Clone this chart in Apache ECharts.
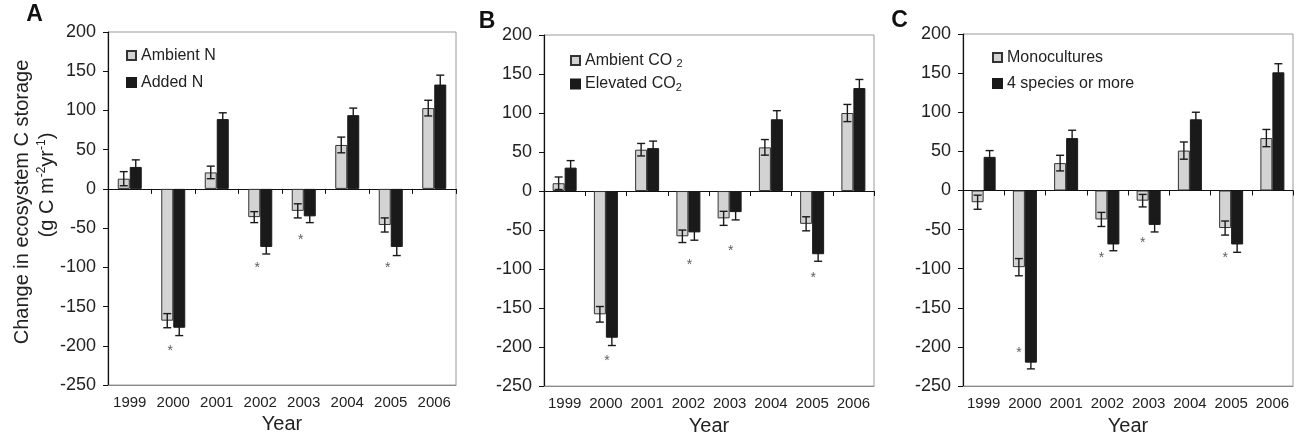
<!DOCTYPE html>
<html>
<head>
<meta charset="utf-8">
<script src="https://cdn.jsdelivr.net/npm/echarts@6/dist/echarts.min.js"></script>
<style>
  html, body { margin: 0; padding: 0; background: #fff; }
  #chart { width: 1297px; height: 441px; }
</style>
</head>
<body>
<div id="chart"></div>
<script>
// Years shared by the three panels
const years = ['1999', '2000', '2001', '2002', '2003', '2004', '2005', '2006'];

// Panel A: nitrogen treatment (mean and standard error, g C m-2 yr-1)
const ambientN      = [13, -168, 21, -36, -28, 56, -46, 103];
const ambientNErr   = [9, 9, 8, 7, 9, 10, 9, 10];
const addedN        = [28, -177, 89, -74, -35, 94, -74, 133];
const addedNErr     = [9, 10, 8, 9, 8, 9, 11, 12];
const starsA        = [null, -203, null, -97, -61, null, -97, null];

// Panel B: CO2 treatment
const ambientCO2    = [10, -158, 53, -58, -35, 56, -42, 100];
const ambientCO2Err = [8, 10, 8, 8, 9, 10, 9, 11];
const elevatedCO2   = [30, -188, 55, -53, -27, 92, -81, 132];
const elevatedCO2Err= [9, 10, 9, 10, 10, 11, 9, 11];
const starsB        = [null, -214, null, -91, -73, null, -108, null];

// Panel C: diversity treatment
const mono          = [-15, -98, 35, -37, -13, 51, -48, 67];
const monoErr       = [9, 11, 10, 9, 8, 11, 9, 11];
const fourSpp       = [43, -220, 67, -69, -44, 91, -69, 151];
const fourSppErr    = [8, 8, 10, 8, 9, 9, 10, 11];
const starsC        = [null, -204, null, -82, -63, null, -82, null];

// Value axis range and step
const yMin = -250, yMax = 200, yStep = 50;

const FONT = "'Liberation Sans', Arial, Helvetica, sans-serif";
const TEXT = '#222';
const GRAY = '#d3d3d3';
const BLACK = '#1a1a1a';

const panels = [
  { grid: { left: 108, top: 32, width: 348, height: 353 },
    names: ['Ambient N', 'Added N'],
    a: ambientN, aErr: ambientNErr, b: addedN, bErr: addedNErr, stars: starsA, starDx: -3,
    legend: { left: 126, top: 46.5, itemGap: 9 } },
  { grid: { left: 544, top: 35, width: 330, height: 357 },
    names: ['Ambient CO2', 'Elevated CO2'],
    a: ambientCO2, aErr: ambientCO2Err, b: elevatedCO2, bErr: elevatedCO2Err, stars: starsB, starDx: 1,
    legend: { left: 570, top: 51.5, itemGap: 5.5 } },
  { grid: { left: 963, top: 34, width: 330, height: 358 },
    names: ['Monocultures', '4 species or more'],
    a: mono, aErr: monoErr, b: fourSpp, bErr: fourSppErr, stars: starsC, starDx: -6,
    legend: { left: 992, top: 48.5, itemGap: 8 } }
];

const BAR_W = 12;

function errorBars(offset) {
  return function (params, api) {
    const i = api.value(0);
    const lo = api.coord([i, api.value(1)]);
    const hi = api.coord([i, api.value(2)]);
    const x = lo[0] + offset;
    const hw = 4;
    const st = { stroke: BLACK, lineWidth: 1.4 };
    return {
      type: 'group',
      children: [
        { type: 'line', shape: { x1: x, y1: lo[1], x2: x, y2: hi[1] }, style: st },
        { type: 'line', shape: { x1: x - hw, y1: hi[1], x2: x + hw, y2: hi[1] }, style: st },
        { type: 'line', shape: { x1: x - hw, y1: lo[1], x2: x + hw, y2: lo[1] }, style: st }
      ]
    };
  };
}

const grid = [], xAxis = [], yAxis = [], series = [], legend = [];

panels.forEach((p, g) => {
  grid.push(Object.assign({ show: true, borderColor: '#9a9a9a', borderWidth: 1, backgroundColor: 'transparent' }, p.grid));

  // bottom axis carrying the year labels
  xAxis.push({
    type: 'category', gridIndex: g, data: years, position: 'bottom',
    axisLine: { onZero: false, lineStyle: { color: '#8a8a8a', width: 1 } },
    axisTick: { show: false },
    axisLabel: { color: TEXT, fontSize: 15, fontFamily: FONT, margin: 10, interval: 0, hideOverlap: false },
    name: 'Year', nameLocation: 'middle', nameGap: 28,
    nameTextStyle: { color: TEXT, fontSize: 20, fontFamily: FONT }
  });
  // zero line with ticks between years
  xAxis.push({
    type: 'category', gridIndex: g, data: years, position: 'bottom',
    axisLine: { onZero: true, lineStyle: { color: '#111', width: 1.2 } },
    axisTick: { show: true, length: 5, interval: 0, lineStyle: { color: '#111' } },
    axisLabel: { show: false }
  });
  yAxis.push({
    type: 'value', gridIndex: g, min: yMin, max: yMax, interval: yStep,
    axisLine: { show: true, lineStyle: { color: '#111', width: 1.2 } },
    axisTick: { show: true, length: 5, lineStyle: { color: '#111' } },
    splitLine: { show: false },
    axisLabel: { color: TEXT, fontSize: 18, fontFamily: FONT, margin: 12 }
  });

  const xi = 2 * g;
  series.push({
    name: p.names[0], type: 'bar', xAxisIndex: xi, yAxisIndex: g, data: p.a,
    barWidth: BAR_W, barGap: '0%',
    itemStyle: { color: GRAY, borderColor: '#333', borderWidth: 1 }
  });
  series.push({
    name: p.names[1], type: 'bar', xAxisIndex: xi, yAxisIndex: g, data: p.b,
    barWidth: BAR_W, barGap: '0%',
    itemStyle: { color: BLACK, borderColor: BLACK, borderWidth: 1 }
  });
  series.push({
    type: 'custom', xAxisIndex: xi, yAxisIndex: g, z: 5, silent: true,
    renderItem: errorBars(-BAR_W / 2),
    data: p.a.map((v, i) => [i, v - p.aErr[i], v + p.aErr[i]])
  });
  series.push({
    type: 'custom', xAxisIndex: xi, yAxisIndex: g, z: 5, silent: true,
    renderItem: errorBars(BAR_W / 2),
    data: p.b.map((v, i) => [i, v - p.bErr[i], v + p.bErr[i]])
  });
  // significance marks
  series.push({
    type: 'scatter', xAxisIndex: xi, yAxisIndex: g, z: 6, silent: true,
    symbolSize: 0, itemStyle: { color: 'transparent' },
    data: p.stars.map(v => (v === null ? '-' : v)),
    label: { show: true, position: 'inside', formatter: '*', color: '#333',
             fontSize: 14, fontFamily: FONT, offset: [p.starDx, 3] }
  });

  legend.push({
    orient: 'vertical', left: p.legend.left, top: p.legend.top, itemGap: p.legend.itemGap,
    padding: 0, itemWidth: 9, itemHeight: 9, icon: 'rect', data: p.names, selectedMode: false,
    formatter: name => name.replace(/CO2$/, name.startsWith('Ambient') ? 'CO {sub|2}' : 'CO{sub|2}'),
    textStyle: {
      color: TEXT, fontSize: 16, fontFamily: FONT, lineHeight: 18,
      rich: { sub: { fontSize: 11, fontFamily: FONT, color: TEXT, verticalAlign: 'bottom', lineHeight: 18, padding: [6, 0, 0, 0] } }
    }
  });
});

const graphic = [
  { type: 'text', x: 34.5, y: 15, style: { text: 'A', fontSize: 23, fontWeight: 'bold', fontFamily: FONT, fill: '#111', align: 'center', verticalAlign: 'middle' } },
  { type: 'text', x: 487, y: 22, style: { text: 'B', fontSize: 23, fontWeight: 'bold', fontFamily: FONT, fill: '#111', align: 'center', verticalAlign: 'middle' } },
  { type: 'text', x: 899.5, y: 21, style: { text: 'C', fontSize: 23, fontWeight: 'bold', fontFamily: FONT, fill: '#111', align: 'center', verticalAlign: 'middle' } },
  { type: 'text', x: 22, y: 202, rotation: Math.PI / 2,
    style: { text: 'Change in ecosystem C storage', fontSize: 20, fontFamily: FONT, fill: TEXT, align: 'center', verticalAlign: 'middle' } },
  { type: 'text', x: 47, y: 185, rotation: Math.PI / 2,
    style: { text: '(g C m{sup|-2}yr{sup|-1})', fontSize: 20, fontFamily: FONT, fill: TEXT, align: 'center', verticalAlign: 'middle', lineHeight: 22,
             rich: { sup: { fontSize: 12, fontFamily: FONT, fill: TEXT, verticalAlign: 'top', lineHeight: 22 } } } }
];

const chart = echarts.init(document.getElementById('chart'), null, { renderer: 'canvas' });
chart.setOption({
  animation: false,
  backgroundColor: '#fff',
  textStyle: { fontFamily: FONT },
  grid, xAxis, yAxis, series, legend, graphic
});
</script>
</body>
</html>
